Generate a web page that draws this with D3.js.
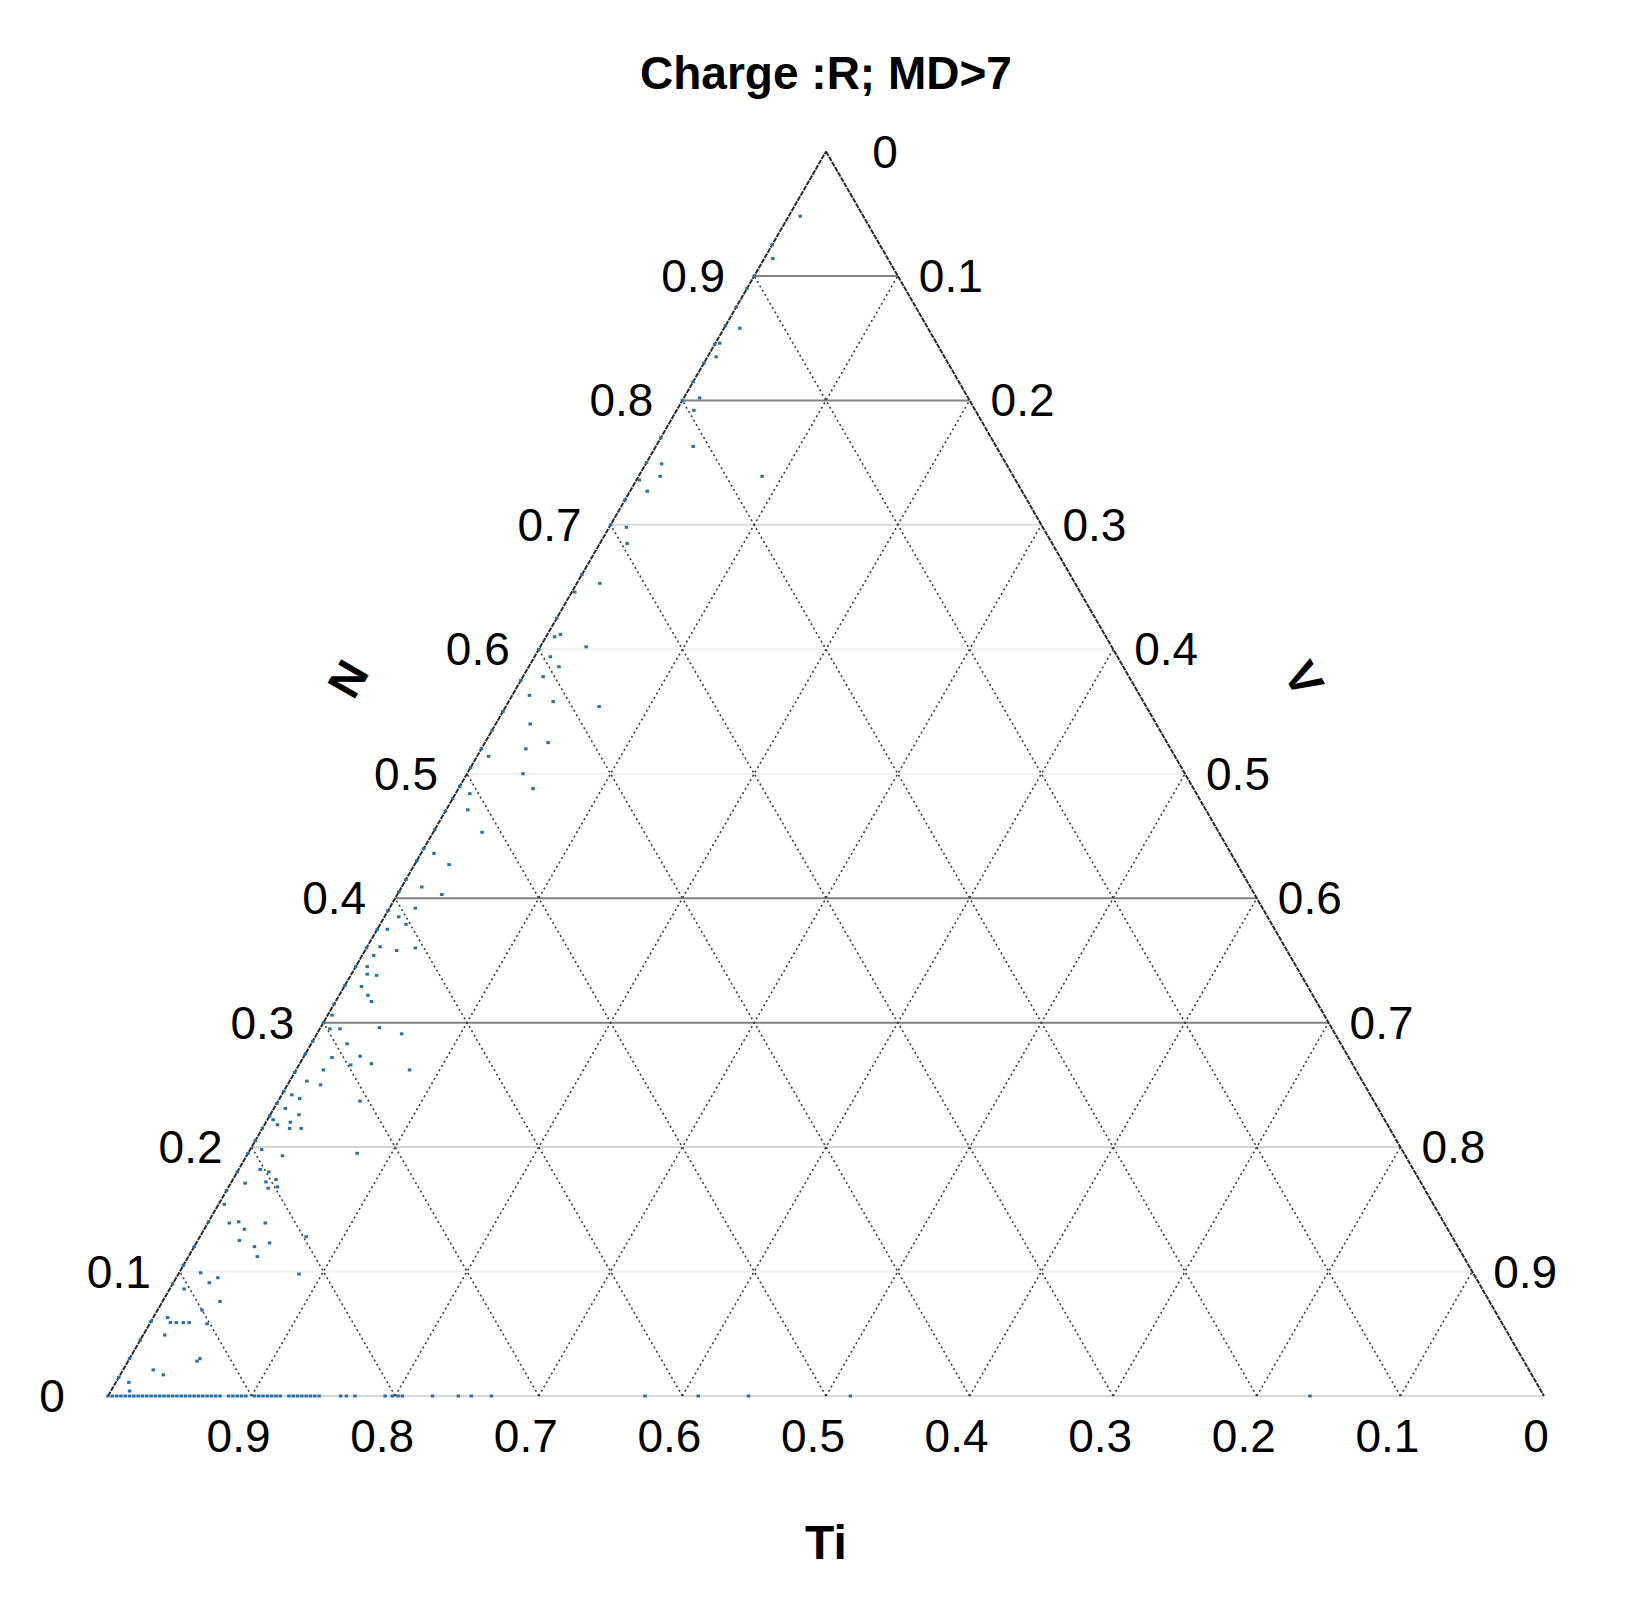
<!DOCTYPE html>
<html>
<head>
<meta charset="utf-8">
<script src="https://cdn.jsdelivr.net/npm/d3@7"></script>
<style>
  html, body { margin: 0; padding: 0; background: #fff; }
  svg { display: block; }
  text { font-family: "Liberation Sans", Arial, Helvetica, sans-serif; fill: #000; }
</style>
</head>
<body>
<svg id="chart" width="1636" height="1601"></svg>
<script>
// ---------------- DATA ----------------
const title = "Charge :R; MD>7";
const axisNames = { left: "N", right: "V", bottom: "Ti" };

// tick values (fractions) and their labels
const nTicks  = [0, 0.1, 0.2, 0.3, 0.4, 0.5, 0.6, 0.7, 0.8, 0.9];
const vTicks  = [0, 0.1, 0.2, 0.3, 0.4, 0.5, 0.6, 0.7, 0.8, 0.9];
const tiTicks = [0.9, 0.8, 0.7, 0.6, 0.5, 0.4, 0.3, 0.2, 0.1, 0];
const gridLevels = [0.1, 0.2, 0.3, 0.4, 0.5, 0.6, 0.7, 0.8, 0.9];

// interior points: N fraction and V fraction (Ti = 1 - N - V)
const interiorN = [0.948,0.914,0.858,0.846,0.835,0.802,0.792,0.763,0.749,0.739,0.739,0.727,0.736,0.698,
  0.685,0.653,0.646,0.612,0.610,0.602,0.594,0.586,
  0.578,0.563,0.558,0.554,0.540,0.525,0.520,0.514,0.500,0.488,0.484,0.471,0.453,0.436,0.427,0.409,0.403,0.392,0.360,
  0.385,0.379,0.375,0.361,0.358,0.354,0.345,0.339,0.338,0.329,0.322,0.317,0.306,
  0.295,0.295,0.296,0.291,0.283,0.272,0.273,0.266,0.267,0.262,0.262,0.253,0.250,0.242,0.239,0.237,0.231,0.226,
  0.222,0.218,0.220,0.215,0.215,0.198,0.193,0.195,0.182,0.180,0.171,0.172,0.174,0.167,0.168,0.154,0.139,0.140,
  0.134,0.139,0.125,0.120,0.123,0.112,0.128,0.098,0.099,0.091,0.095,0.086,0.076,0.069,0.063,0.059,0.059,0.059,
  0.059,0.058,0.049,0.028,0.030,0.021,0.017,0.011,0.004];
const interiorV = [0.008,0.006,0.011,0.003,0.006,0.011,0.012,0.026,0.011,0.015,0.086,0.012,0.002,0.012,
  0.019,0.016,0.002,0.009,0.006,0.032,0.011,0.021,
  0.014,0.012,0.031,0.065,0.024,0.044,0.031,0.008,0.039,0.052,0.010,0.015,0.034,0.009,0.024,0.014,0.031,0.018,0.034,
  0.010,0.018,0.007,0.009,0.022,0.008,0.008,0.011,0.018,0.012,0.020,0.025,0.003,
  0.007,0.014,0.041,0.059,0.025,0.020,0.039,0.036,0.050,0.079,0.019,0.012,0.023,0.007,0.014,0.057,0.008,0.020,
  0.004,0.009,0.017,0.019,0.027,0.008,0.025,0.076,0.015,0.022,0.010,0.024,0.030,0.028,0.034,0.004,0.015,0.021,
  0.028,0.040,0.029,0.042,0.051,0.048,0.074,0.084,0.015,0.025,0.029,0.010,0.040,0.031,0.010,0.014,0.018,0.023,
  0.027,0.040,0.015,0.048,0.049,0.021,0.030,0.009,0.013];

// points lying on the N axis edge (V = 0): N fraction
const edgeN = [0.015,0.03,0.045,0.06,0.09,0.105,0.12,0.14,0.165,0.18,0.195,0.205,0.215,0.225,0.235,0.245,
  0.26,0.275,0.285,0.30,0.315,0.33,0.345,0.36,0.375,0.39,0.405,0.415,0.43,0.44,0.455,0.47,0.48,0.49,
  0.505,0.52,0.535,0.55,0.575,0.60,0.625,0.66,0.70,0.72,0.75,0.77,0.80,0.815,0.83,0.845,0.86,0.875,0.89,0.90,0.925];

// points lying on the Ti axis (N = 0): V fraction
const baseV = [0,0.003,0.006,0.009,0.012,0.015,0.018,0.021,0.024,0.027,0.030,0.033,0.036,0.039,0.042,0.045,
  0.048,0.051,0.054,0.057,0.060,0.063,0.066,0.069,0.072,0.075,0.078,0.084,0.087,0.090,0.093,0.096,0.102,
  0.105,0.108,0.111,0.114,0.117,0.120,0.126,0.129,0.132,0.135,0.138,0.141,0.144,0.147,
  0.162,0.166,0.172,0.193,0.198,0.202,0.205,0.226,0.244,0.253,0.267,0.374,0.411,0.446,0.517,0.837];

// ---------------- DRAW ----------------
const svg = d3.select("#chart");
const x = d3.scaleLinear().domain([0, 1]).range([108, 1544]);
const y = d3.scaleLinear().domain([0, 1]).range([1396, 151.5]);
// ternary (N, V) -> pixel
const px = (n, v) => x(v + n / 2);
const py = (n) => y(n);

const fmt = d => d === 0 ? "0" : d3.format(".1f")(d);

// horizontal (N constant) grid lines; colours follow the reference
const hColor = {0.1:"#f1f1f1",0.2:"#d4d4d4",0.3:"#808080",0.4:"#808080",0.5:"#f1f1f1",0.6:"#f1f1f1",0.7:"#dadada",0.8:"#808080",0.9:"#808080"};
const g = svg.append("g");

// bottom axis line
g.append("line")
  .attr("x1", px(0, 0)).attr("y1", py(0))
  .attr("x2", px(0, 1)).attr("y2", py(0))
  .attr("stroke", "#d8d8d8").attr("stroke-width", 2);

g.selectAll("line.h").data(gridLevels).join("line")
  .attr("class", "h")
  .attr("x1", n => px(n, 0)).attr("y1", n => py(n))
  .attr("x2", n => px(n, 1 - n)).attr("y2", n => py(n))
  .attr("stroke", n => hColor[n]).attr("stroke-width", 2);

// V constant (parallel to left edge)
g.selectAll("line.v").data(gridLevels).join("line")
  .attr("class", "v")
  .attr("x1", v => px(0, v)).attr("y1", py(0))
  .attr("x2", v => px(1 - v, v)).attr("y2", v => py(1 - v))
  .attr("stroke", "#3c3c3c").attr("stroke-width", 1.6).attr("stroke-dasharray", "2,3");

// Ti constant (parallel to right edge)
g.selectAll("line.t").data(gridLevels).join("line")
  .attr("class", "t")
  .attr("x1", t => px(0, 1 - t)).attr("y1", py(0))
  .attr("x2", t => px(1 - t, 0)).attr("y2", t => py(1 - t))
  .attr("stroke", "#3c3c3c").attr("stroke-width", 1.6).attr("stroke-dasharray", "2,3");

// triangle edges
g.append("line")
  .attr("x1", px(0, 0)).attr("y1", py(0)).attr("x2", px(1, 0)).attr("y2", py(1))
  .attr("stroke", "#2a2a2a").attr("stroke-width", 2).attr("stroke-dasharray", "5,1");
g.append("line")
  .attr("x1", px(1, 0)).attr("y1", py(1)).attr("x2", px(0, 1)).attr("y2", py(0))
  .attr("stroke", "#2a2a2a").attr("stroke-width", 2).attr("stroke-dasharray", "5,1");

// points
const pts = [];
interiorN.forEach((n, i) => pts.push({ n, v: interiorV[i] }));
edgeN.forEach(n => pts.push({ n, v: 0 }));
baseV.forEach(v => pts.push({ n: 0, v }));
pts.forEach(p => p.ti = 1 - p.n - p.v);

svg.append("g").selectAll("rect").data(pts).join("rect")
  .attr("x", d => px(d.n, d.v) - 1.75)
  .attr("y", d => py(d.n) - 1.5)
  .attr("width", 3.5).attr("height", 3)
  .attr("fill", "#2770a8");

// tick labels
const lab = svg.append("g").attr("font-size", 46);
lab.selectAll("text.l").data(nTicks).join("text")
  .attr("class", "l")
  .attr("x", n => px(n, 0) - (n === 0 ? 56 : 61)).attr("y", n => py(n))
  .attr("text-anchor", "middle").attr("dominant-baseline", "central")
  .text(fmt);
lab.selectAll("text.r").data(vTicks).join("text")
  .attr("class", "r")
  .attr("x", v => px(1 - v, v) + (v === 0 ? 59 : 53)).attr("y", v => py(1 - v))
  .attr("text-anchor", "middle").attr("dominant-baseline", "central")
  .text(fmt);
lab.selectAll("text.b").data(tiTicks).join("text")
  .attr("class", "b")
  .attr("x", t => px(0, 1 - t) - (t === 0 ? 8 : 13)).attr("y", py(0) + 40)
  .attr("text-anchor", "middle").attr("dominant-baseline", "central")
  .text(fmt);

// axis names
svg.append("text")
  .attr("transform", `translate(${px(0.5,0) - 119},${py(0.5) - 95}) rotate(-60)`)
  .attr("text-anchor", "middle").attr("dominant-baseline", "central")
  .attr("font-size", 46).attr("font-weight", "bold")
  .text(axisNames.left);
svg.append("text")
  .attr("transform", `translate(${px(0.5,0.5) + 119},${py(0.5) - 95}) rotate(60)`)
  .attr("text-anchor", "middle").attr("dominant-baseline", "central")
  .attr("font-size", 46).attr("font-weight", "bold")
  .text(axisNames.right);
svg.append("text")
  .attr("x", x(0.5)).attr("y", py(0) + 146)
  .attr("text-anchor", "middle").attr("dominant-baseline", "central")
  .attr("font-size", 48).attr("font-weight", "bold")
  .text(axisNames.bottom);

// title
svg.append("text")
  .attr("x", x(0.5)).attr("y", 73)
  .attr("text-anchor", "middle").attr("dominant-baseline", "central")
  .attr("font-size", 46).attr("font-weight", "bold")
  .text(title);
</script>
</body>
</html>
